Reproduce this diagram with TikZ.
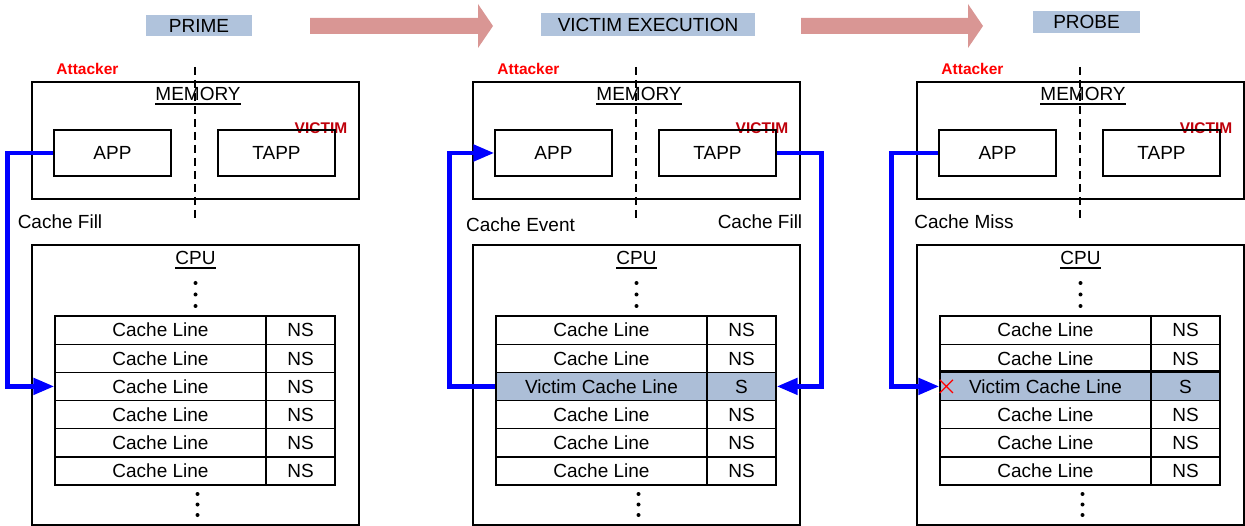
\documentclass[tikz,border=0pt]{standalone}
\usepackage{fontspec}
\setmainfont{Liberation Sans}
\usetikzlibrary{arrows.meta,shapes.misc}

\definecolor{hdrblue}{RGB}{176,195,220}
\definecolor{rowblue}{RGB}{172,190,215}
\definecolor{flowred}{RGB}{217,150,148}
\definecolor{victred}{RGB}{190,0,10}
\definecolor{attred}{RGB}{255,0,0}
\definecolor{linkblue}{RGB}{0,0,255}

\tikzset{
  txt/.style={font=\fontsize{19}{22}\selectfont, inner sep=0pt},
  hdr/.style={txt, fill=hdrblue},
  frame/.style={draw=black, line width=1.3pt},
  boxed/.style={frame, txt, text height=13.6pt, text depth=0pt},
  cellA/.style={boxed, minimum width=211, minimum height=28.17},
  cellB/.style={boxed, minimum width=69, minimum height=28.17},
  attacker/.style={font=\fontsize{15.5}{18}\selectfont\bfseries, text=attred, inner sep=0pt},
  victim/.style={font=\fontsize{15.5}{18}\selectfont\bfseries, text=victred, inner sep=0pt},
  divider/.style={draw=black, line width=1.3pt, dash pattern=on 8pt off 5pt},
  link/.style={draw=linkblue, line width=4.8pt, -{Triangle[length=21pt,width=16pt]}},
  uline/.style={draw=black, line width=1.1pt},
}

% One stage: memory with the two applications, the CPU with its cache lines.
% #1 horizontal shift, #2 name prefix, #3/#4 texts of the third line, #5 its fill
\newcommand\cachepanel[5]{%
\begin{scope}[xshift=#1pt, name prefix=#2-]
  \node[attacker] (att) at (87.5,69) {Attacker};
  \node[frame, minimum width=327, minimum height=117] (mem) at (195.5,140.5) {};
  \node[txt, anchor=base] (memlbl) at (198,101) {MEMORY};
  \draw[uline] ([yshift=-3pt]memlbl.base west) -- ([yshift=-3pt]memlbl.base east);
  \node[victim] (vic) at (321,128) {VICTIM};
  \node[boxed, minimum width=117, minimum height=46] (app) at (112.5,153) {APP};
  \node[boxed, minimum width=117, minimum height=46] (tapp) at (276.5,153) {TAPP};
  \node[frame, minimum width=327, minimum height=280] (cpu) at (195.5,385) {};
  \node[txt, anchor=base] (cpulbl) at (195.5,265) {CPU};
  \draw[uline] ([yshift=-3pt]cpulbl.base west) -- ([yshift=-3pt]cpulbl.base east);
  \foreach \yy in {283,294.5,306} \fill (195.5,\yy) circle (2pt);
  \foreach \i in {1,2,4,5,6} {
    \node[cellA] (r\i-a) at (160.5,{316+28.17*(\i-0.5)}) {Cache Line};
    \node[cellB] (r\i-b) at (300.5,{316+28.17*(\i-0.5)}) {NS};
  }
  \node[cellA, fill=#5] (r3-a) at (160.5,386.4) {#3};
  \node[cellB, fill=#5] (r3-b) at (300.5,386.4) {#4};
  \foreach \yy in {494,504.5,515} \fill (197.5,\yy) circle (2pt);
  \draw[divider] (195,67) -- (195,221);
\end{scope}}

\begin{document}
\begin{tikzpicture}[x=1pt,y=-1pt]
\useasboundingbox (0,0) rectangle (1245,526);

% stage titles and the flow arrows between them
\node[hdr, minimum width=106, minimum height=21] (prime) at (199,25.5) {PRIME};
\node[hdr, minimum width=214, minimum height=23] (exec) at (648,24.5) {VICTIM EXECUTION};
\node[hdr, minimum width=107, minimum height=22] (probe) at (1086.5,22) {PROBE};
\fill[flowred] (310,18) -- (478,18) -- (478,4) -- (493,26) -- (478,48) -- (478,34) -- (310,34) -- cycle;
\fill[flowred] (801,18) -- (968,18) -- (968,4) -- (983,26) -- (968,48) -- (968,34) -- (801,34) -- cycle;

% the three stages
\cachepanel{0}{p1}{Cache Line}{NS}{white}
\cachepanel{441}{p2}{Victim Cache Line}{S}{rowblue}
\cachepanel{885}{p3}{Victim Cache Line}{S}{rowblue}
\draw[line width=2.6pt] (p3-r3-a.north west) -- (p3-r3-b.north east);

% cache traffic
\node[txt] (fill1) at (60,222) {Cache Fill};
\draw[link] (p1-app.west) -- ++(-46,0) |- (p1-r3-a.west);

\node[txt] (event2) at (520.5,225) {Cache Event};
\node[txt] (fill2) at (760,222) {Cache Fill};
\draw[link] (p2-r3-a.west) -- ++(-46,0) |- (p2-app.west);
\draw[link] (p2-tapp.east) -- ++(45,0) |- (p2-r3-b.east);

\node[txt] (miss3) at (964,222) {Cache Miss};
\draw[link] (p3-app.west) -- ++(-47,0) |- (p3-r3-a.west);
\node[draw=red, cross out, line width=1.2pt, minimum size=12, inner sep=0pt] (xmark) at ([xshift=7pt]p3-r3-a.west) {};
\end{tikzpicture}
\end{document}
